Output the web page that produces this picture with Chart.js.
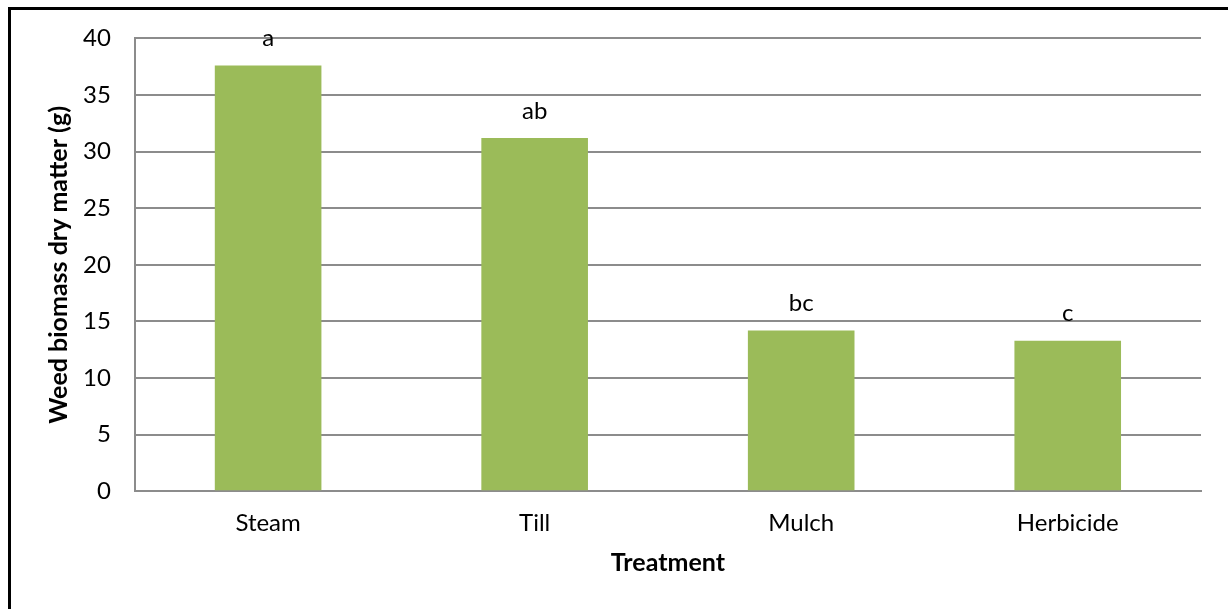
<!DOCTYPE html>
<html>
<head>
<meta charset="utf-8">
<script src="https://cdn.jsdelivr.net/npm/chart.js@4"></script>
<style>
  body { margin: 0; background: #fff; }
  #frame {
    position: absolute; left: 8px; top: 7px; width: 1220px; height: 602px;
    border-top: 3px solid #000; border-left: 3px solid #000;
  }
  #wrap { position: absolute; left: 0; top: 0; width: 1228px; height: 609px; }
</style>
</head>
<body>
<div id="frame"></div>
<div id="wrap"><canvas id="chart" width="1228" height="609"></canvas></div>
<script>
'use strict';

// ***** DATA *****
const treatments = ['Steam', 'Till', 'Mulch', 'Herbicide'];
const biomass = [37.6, 31.2, 14.2, 13.3];
const letters = ['a', 'ab', 'bc', 'c'];
const yTicks = [0, 5, 10, 15, 20, 25, 30, 35, 40];

const FONT = 'Lato, "Open Sans", sans-serif';

// draws the significance letters above each bar
const letterPlugin = {
  id: 'letters',
  afterDatasetsDraw(chart) {
    const ctx = chart.ctx;
    const meta = chart.getDatasetMeta(0);
    ctx.save();
    ctx.font = '24px ' + FONT;
    ctx.fillStyle = '#000';
    ctx.textAlign = 'center';
    ctx.textBaseline = 'middle';
    meta.data.forEach(function (bar, i) {
      ctx.fillText(letters[i], bar.x, bar.y - 27);
    });
    ctx.restore();
  }
};

const ctx = document.getElementById('chart').getContext('2d');

let myChart = new Chart(ctx, { //eslint-disable-line
  type: 'bar',
  data: {
    labels: treatments,
    datasets: [{
      data: biomass,
      backgroundColor: '#9BBB59',
      borderWidth: 0,
      categoryPercentage: 1,
      barPercentage: 0.4
    }]
  },
  options: {
    responsive: false,
    animation: false,
    devicePixelRatio: 1,
    layout: { padding: { left: 44, right: 27, top: 23, bottom: 27 } },
    plugins: { legend: { display: false }, tooltip: { enabled: false } },
    scales: {
      x: {
        grid: { display: false },
        border: { display: true, color: '#8c8c8c', width: 2 },
        ticks: { color: '#000', font: { family: FONT, size: 24 }, padding: 10 },
        title: {
          display: true, text: 'Treatment', color: '#000',
          font: { family: FONT, size: 25, weight: 'bold' }, padding: { top: 0 }
        }
      },
      y: {
        min: 0,
        max: 40,
        afterBuildTicks(axis) {
          axis.ticks = yTicks.map(function (v) { return { value: v }; });
        },
        grid: { color: '#8c8c8c', lineWidth: 2, drawTicks: false },
        border: { display: true, color: '#8c8c8c', width: 2 },
        ticks: { color: '#000', font: { family: FONT, size: 24 }, padding: 24 },
        title: {
          display: true, text: 'Weed biomass dry matter (g)', color: '#000',
          font: { family: FONT, size: 25, weight: 'bold' }, padding: { top: 0, bottom: -15 }
        }
      }
    }
  },
  plugins: [letterPlugin]
});
</script>
</body>
</html>
